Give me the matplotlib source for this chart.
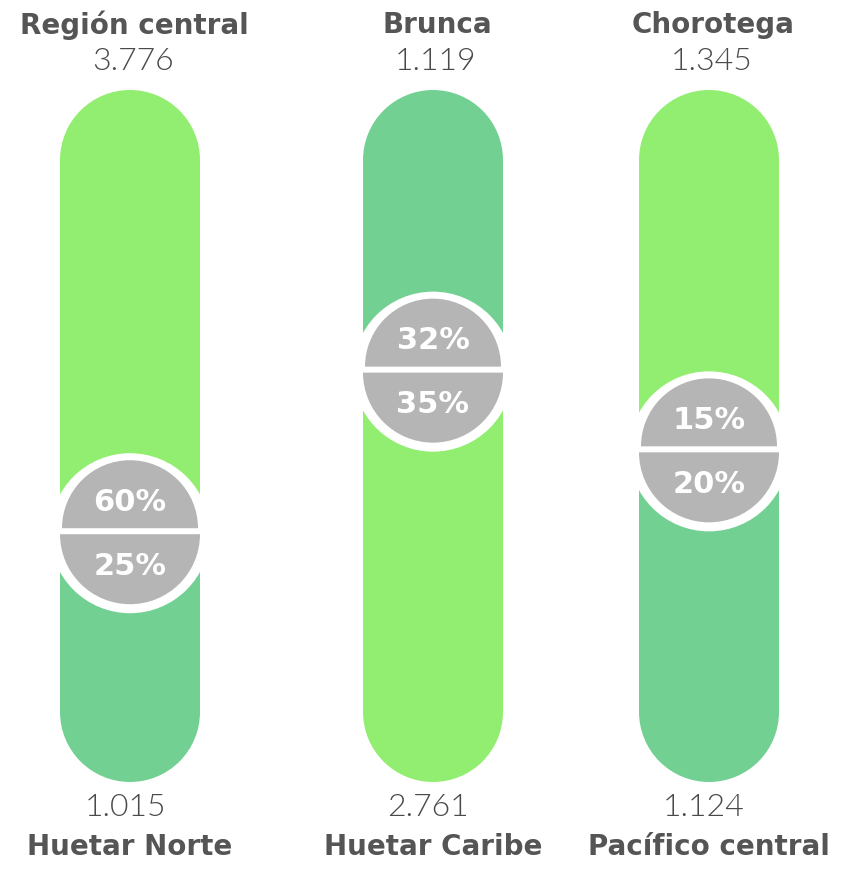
import matplotlib
matplotlib.use("Agg")
import matplotlib.pyplot as plt
from matplotlib.patches import Rectangle, Wedge, Circle

# ---- data ----
top_regions = ["Región central", "Brunca", "Chorotega"]
top_values = [3776, 1119, 1345]
bottom_regions = ["Huetar Norte", "Huetar Caribe", "Pacífico central"]
bottom_values = [1015, 2761, 1124]
top_pct = [60, 32, 15]
bottom_pct = [25, 35, 20]

def fmt(v):
    return f"{v:,}".replace(",", ".")

# ---- layout / style ----
W, H = 847, 870
col_centers = [130, 433, 709]
pill_top = H - 91
pill_bottom = H - 783
half_w = 70
ring_r = 80
gray_r = 70
gap = 3
light = "#92EE70"
dark = "#72D192"
gray = "#B5B5B5"
txt = "#555555"
power = 0.43

fig = plt.figure(figsize=(W / 100, H / 100), dpi=100)
ax = fig.add_axes([0, 0, 1, 1])
ax.set_xlim(0, W)
ax.set_ylim(0, H)
ax.set_aspect("equal")
ax.axis("off")

L = pill_top - pill_bottom
for cx, tv, bv, tp, bp, tn, bn in zip(col_centers, top_values, bottom_values,
                                      top_pct, bottom_pct, top_regions, bottom_regions):
    ratio = (tv / bv) ** power
    frac = ratio / (1 + ratio)
    split = pill_top - frac * L
    tcol = light if tv >= bv else dark
    bcol = dark if tv >= bv else light
    # top segment
    ax.add_patch(Rectangle((cx - half_w, split), 2 * half_w, pill_top - half_w - split,
                           facecolor=tcol, edgecolor="none"))
    ax.add_patch(Wedge((cx, pill_top - half_w), half_w, 0, 180, facecolor=tcol, edgecolor="none"))
    # bottom segment
    ax.add_patch(Rectangle((cx - half_w, pill_bottom + half_w), 2 * half_w,
                           split - pill_bottom - half_w, facecolor=bcol, edgecolor="none"))
    ax.add_patch(Wedge((cx, pill_bottom + half_w), half_w, 180, 360, facecolor=bcol, edgecolor="none"))
    # circle
    ax.add_patch(Circle((cx, split - 2), ring_r, facecolor="white", edgecolor="none"))
    ax.add_patch(Wedge((cx, split + gap), gray_r - 2, 0, 180, facecolor=gray, edgecolor="none"))
    ax.add_patch(Wedge((cx, split - gap), gray_r, 180, 360, facecolor=gray, edgecolor="none"))
    ax.text(cx, split + 30, f"{tp}%", ha="center", va="center", color="white",
            fontsize=22, fontweight="bold", family="DejaVu Sans")
    ax.text(cx, split - 34, f"{bp}%", ha="center", va="center", color="white",
            fontsize=22, fontweight="bold", family="DejaVu Sans")
    # labels
    ax.text(cx + 4, H - 25, tn, ha="center", va="center", color=txt,
            fontsize=20, fontweight="bold", family="DejaVu Sans")
    ax.text(cx + 3, H - 62, fmt(tv), ha="center", va="center", color="#4a4a4a",
            fontsize=23, fontweight=300, family="Lato")
    ax.text(cx - 5, H - 808, fmt(bv), ha="center", va="center", color="#4a4a4a",
            fontsize=23, fontweight=300, family="Lato")
    ax.text(cx, H - 847, bn, ha="center", va="center", color=txt,
            fontsize=20, fontweight="bold", family="DejaVu Sans")

fig.savefig("out.png", dpi=100)
